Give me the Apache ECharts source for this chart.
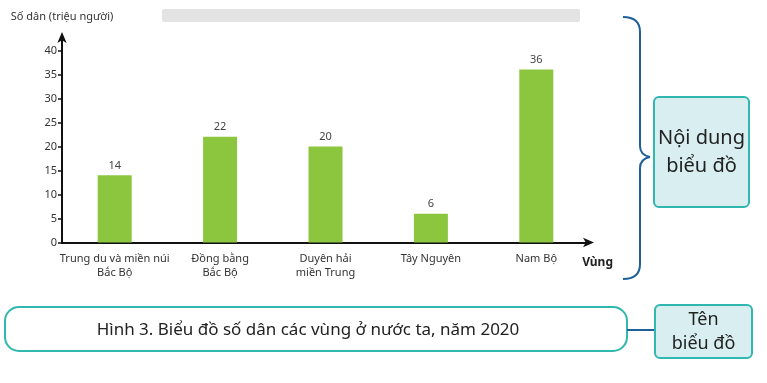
<!DOCTYPE html>
<html><head><meta charset="utf-8">
<script src="https://cdn.jsdelivr.net/npm/echarts@6/dist/echarts.min.js"></script>
<style>html,body{margin:0;padding:0;background:#fff}#c{width:767px;height:383px}</style>
</head><body><div id="c"></div>
<script>
const categories = ['Trung du và miền núi\nBắc Bộ', 'Đồng bằng\nBắc Bộ', 'Duyên hải\nmiền Trung', 'Tây Nguyên', 'Nam Bộ'];
const population = [14, 22, 20, 6, 36];
const yTicks = [0, 5, 10, 15, 20, 25, 30, 35, 40];
const yAxisName = 'Số dân (triệu người)';
const xAxisName = 'Vùng';
const captionText = 'Hình 3. Biểu đồ số dân các vùng ở nước ta, năm 2020';
const contentLabel = 'Nội dung\nbiểu đồ';
const titleLabel = 'Tên\nbiểu đồ';

const FONT = '"Noto Sans", "Open Sans", sans-serif';
const BRACE = {stroke: '#1f5f9a', lineWidth: 2, fill: null};
function curve(x1, y1, cx, cy, x2, y2) {
  return {type: 'bezierCurve', shape: {x1: x1, y1: y1, cpx1: cx, cpy1: cy, x2: x2, y2: y2}, style: BRACE};
}
function seg(x1, y1, x2, y2) {
  return {type: 'line', shape: {x1: x1, y1: y1, x2: x2, y2: y2}, style: BRACE};
}
const chart = echarts.init(document.getElementById('c'), null, {renderer: 'canvas'});
chart.setOption({
  backgroundColor: '#fff',
  animation: false,
  textStyle: {fontFamily: FONT},
  grid: {left: 62, right: 178, top: 36, bottom: 140.5},
  xAxis: {
    type: 'category',
    data: categories,
    name: xAxisName,
    nameLocation: 'end',
    nameGap: 24,
    nameTextStyle: {fontFamily: FONT, fontSize: 12, fontWeight: 'bold', color: '#222', align: 'right', verticalAlign: 'top', padding: [14, 0, 0, 0]},
    axisLine: {show: true, symbol: ['none', 'arrow'], symbolSize: [7, 11], symbolOffset: [0, 5], lineStyle: {color: '#111', width: 2}},
    axisTick: {show: false},
    axisLabel: {fontFamily: FONT, fontSize: 11, color: '#333', margin: 9, lineHeight: 14, interval: 0}
  },
  yAxis: {
    type: 'value',
    min: 0, max: 43,
    name: yAxisName,
    nameLocation: 'end',
    nameGap: 14,
    nameTextStyle: {fontFamily: FONT, fontSize: 11, color: '#333', align: 'center'},
    axisLine: {show: true, symbol: ['none', 'arrow'], symbolSize: [7, 11], symbolOffset: [0, 4], lineStyle: {color: '#111', width: 2}},
    axisTick: {show: true, length: 4, lineStyle: {color: '#111', width: 1.5}, customValues: yTicks},
    axisLabel: {fontFamily: FONT, fontSize: 11, color: '#333', margin: 5, customValues: yTicks},
    splitLine: {show: false}
  },
  series: [{
    type: 'bar',
    data: population,
    barWidth: 34,
    itemStyle: {color: '#8cc63f'},
    label: {show: true, position: 'top', distance: 4, fontFamily: FONT, fontSize: 11, color: '#444'}
  }],
  graphic: [
    {type: 'rect', shape: {x: 162, y: 9, width: 418, height: 13, r: 2}, style: {fill: '#e3e3e3'}, z: -1},
    curve(623, 17, 640, 17, 640, 32),
    seg(640, 32, 640, 146),
    curve(640, 146, 640, 155, 650, 157),
    curve(650, 157, 640, 159, 640, 168),
    seg(640, 168, 640, 264),
    curve(640, 264, 640, 279, 623, 279),
    {type: 'rect', shape: {x: 654, y: 97, width: 95, height: 110, r: 5}, style: {fill: '#d8eef0', stroke: '#2fb7b0', lineWidth: 2}},
    {type: 'text', x: 701.5, y: 152, style: {text: contentLabel, fontFamily: FONT, fontSize: 20, lineHeight: 28, fill: '#222', align: 'center', verticalAlign: 'middle'}},
    {type: 'rect', shape: {x: 5, y: 307, width: 622, height: 44, r: 14}, style: {fill: '#fff', stroke: '#2fb7b0', lineWidth: 2}},
    {type: 'text', x: 308, y: 330, style: {text: captionText, fontFamily: FONT, fontSize: 17, fill: '#222', align: 'center', verticalAlign: 'middle'}},
    {type: 'line', shape: {x1: 627, y1: 330, x2: 655, y2: 330}, style: {stroke: '#1f5f9a', lineWidth: 2}},
    {type: 'rect', shape: {x: 655, y: 305, width: 97, height: 53, r: 5}, style: {fill: '#d8eef0', stroke: '#2fb7b0', lineWidth: 2}},
    {type: 'text', x: 703.5, y: 332, style: {text: titleLabel, fontFamily: FONT, fontSize: 18, lineHeight: 24, fill: '#222', align: 'center', verticalAlign: 'middle'}}
  ]
});
</script></body></html>
